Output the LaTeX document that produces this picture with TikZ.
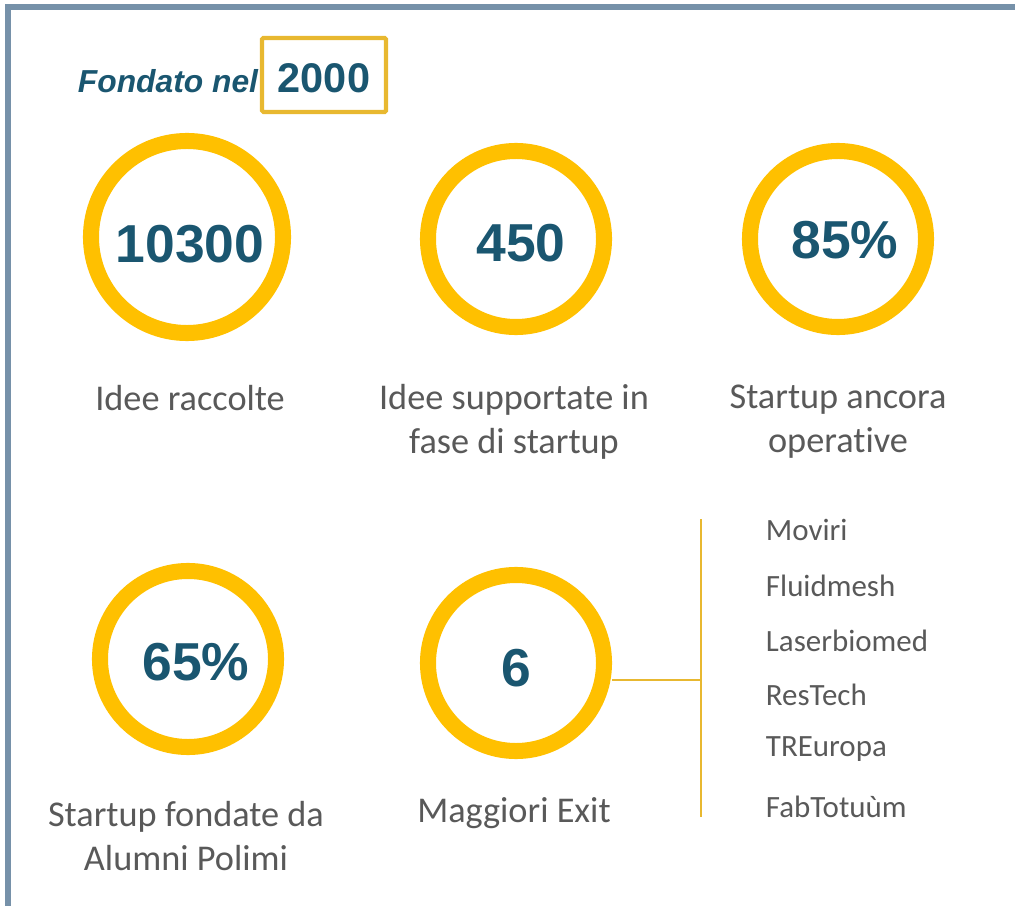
\documentclass[tikz,border=0pt]{standalone}
\usepackage{fontspec}
\setmainfont{Carlito}[Ligatures=NoCommon]
\newfontfamily\arialfont{Liberation Sans}
\definecolor{framegray}{HTML}{7691A9}
\definecolor{ringgold}{HTML}{FFC000}
\definecolor{linegold}{HTML}{E8B830}
\definecolor{numblue}{HTML}{1A5670}
\definecolor{textgray}{HTML}{595959}
\tikzset{
  ring/.style={circle, draw=ringgold, line width=11.4pt, minimum size=4.4cm, inner sep=0pt},
  bigring/.style={ring, minimum size=4.8cm},
  number/.style={anchor=base, inner sep=0pt, text=numblue,
    font=\arialfont\bfseries\fontsize{38}{40}\selectfont},
  caption/.style={align=center, text=textgray, font=\fontsize{25.8}{31.3}\selectfont},
  exitname/.style={anchor=west, text=textgray, font=\fontsize{22}{26}\selectfont}
}
\begin{document}
\begin{tikzpicture}[x=0.025cm,y=-0.025cm]
\useasboundingbox (0,0) rectangle (1015,906);
% frame
\draw[framegray, line width=3.6pt] (8,906)--(8,7)--(1015,7);
% header
\node[anchor=base east, text=numblue, font=\arialfont\bfseries\itshape\fontsize{22.6}{26}\selectfont] (fond) at (263,93) {Fondato nel};
\node[draw=linegold, line width=2.9pt, rounded corners=1pt, minimum width=3.1cm, minimum height=1.85cm,
  text=numblue, font=\arialfont\bfseries\fontsize{29.5}{32}\selectfont] (year) at (324,75) {\raisebox{-2.2pt}[\height][0pt]{2000}};
% first row
\node[bigring] (ring1) at (187,237) {};
\node[ring] (ring2) at (516,239) {};
\node[ring] (ring3) at (838,239) {};
\node[number] (num1) at (190,263) {10300};
\node[number] (num2) at (521,262) {450};
\node[number] (num3) at (845,259) {85\%};
\node[caption] (cap1) at (190,398) {Idee raccolte};
\node[caption] (cap2) at (514,422) {Idee supportate in\\fase di startup};
\node[caption] (cap3) at (838,422) {Startup ancora\\operative};
% second row
\node[ring] (ring4) at (188,659) {};
\node[ring] (ring5) at (516,663) {};
\node[number] (num4) at (196,680) {65\%};
\node[number] (num5) at (516,686) {6};
\node[caption] (cap4) at (186,836) {Startup fondate da\\Alumni Polimi};
\node[caption] (cap5) at (514,813) {Maggiori Exit};
% exits
\coordinate (top) at (701,519);
\coordinate (bot) at (701,817);
\coordinate (mid) at (701,680);
\draw[linegold, line width=1.8pt] (top)--(bot);
\draw[linegold, line width=1.8pt] (ring5.east |- mid)--(mid);
\node[exitname] (e1) at (761,530) {Moviri};
\node[exitname] (e2) at (761,586) {Fluidmesh};
\node[exitname] (e3) at (761,641) {Laserbiomed};
\node[exitname] (e4) at (761,695) {ResTech};
\node[exitname] (e5) at (761,749) {TREuropa};
\node[exitname] (e6) at (761,807) {FabTotuùm};
\end{tikzpicture}
\end{document}
